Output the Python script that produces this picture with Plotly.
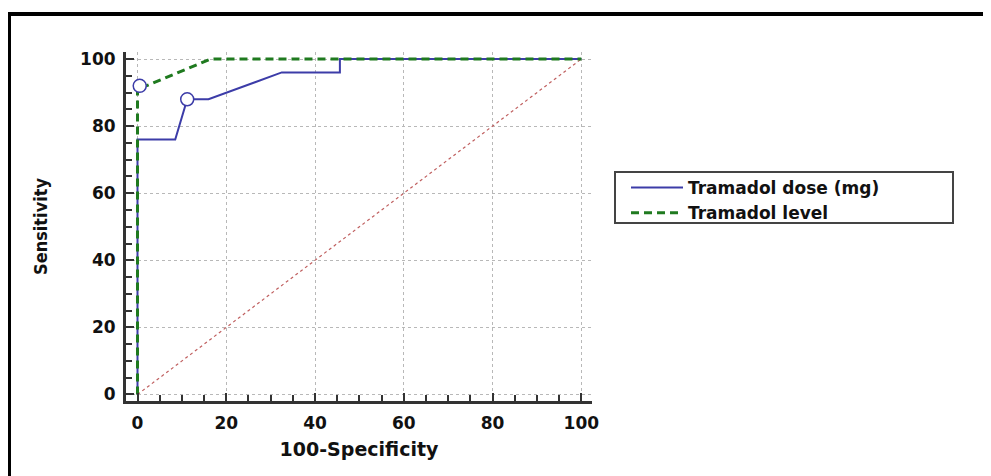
import plotly.graph_objects as go

# ---- data ----
dose_x = [0, 0, 8.5, 11.2, 16, 32.5, 45.6, 45.6, 100]
dose_y = [0, 76, 76, 88, 88, 96, 96, 100, 100]
dose_marker = ([11.2], [88])

level_x = [0, 0, 2, 16.5, 100]
level_y = [0, 92, 92, 100, 100]
level_marker = ([0.5], [92])

diag_x = [0, 100]
diag_y = [0, 100]

tick_vals = [0, 20, 40, 60, 80, 100]

# page body offset (browser default margin)
OFF = 8
W, H = 991 - OFF, 476 - OFF
# plot area in viewport pixels: left 126, right 592, top 52, bottom 401
ML, MT = 126 - OFF, 52 - OFF
MR = W - (592 - OFF)
MB = H - (401 - OFF)
PW, PH = W - ML - MR, H - MT - MB


def px(xv):  # viewport pixel -> paper
    return (xv - OFF - ML) / PW


def py(yv):
    return (H - MB - (yv - OFF)) / PH


blue = "#3c3ca8"
green = "#1f7a1f"
font_fam = "DejaVu Sans, Liberation Sans, Arial"

fig = go.Figure()
fig.add_trace(go.Scatter(x=diag_x, y=diag_y, mode="lines",
                         line=dict(color="#c06060", width=1.2, dash="dot"),
                         showlegend=False, hoverinfo="skip"))
fig.add_trace(go.Scatter(x=dose_x, y=dose_y, mode="lines", name="Tramadol dose (mg)",
                         line=dict(color=blue, width=2)))
fig.add_trace(go.Scatter(x=level_x, y=level_y, mode="lines", name="Tramadol level",
                         line=dict(color=green, width=3, dash="8px,5px")))
fig.add_trace(go.Scatter(x=dose_marker[0], y=dose_marker[1], mode="markers", showlegend=False,
                         marker=dict(symbol="circle", size=13, color="white",
                                     line=dict(color=blue, width=1.5))))
fig.add_trace(go.Scatter(x=level_marker[0], y=level_marker[1], mode="markers", showlegend=False,
                         marker=dict(symbol="circle", size=13, color="white",
                                     line=dict(color=blue, width=1.5))))

axis_common = dict(
    showline=True, linewidth=3, linecolor="#333333", mirror=False,
    showgrid=True, gridcolor="#b8b8b8", gridwidth=1, griddash="dot",
    zeroline=False,
    ticks="inside", ticklen=8, tickwidth=2, tickcolor="#333333",
    tickvals=tick_vals,
    tickfont=dict(family=font_fam, size=17, color="#111111", weight="bold"),
    minor=dict(dtick=5, tick0=0, ticks="inside", ticklen=6, tickwidth=2,
               tickcolor="#333333", showgrid=False),
)

fig.update_xaxes(range=[-2.59, 102.4], **axis_common, ticklabelstandoff=5,
                 title=dict(text="100-Specificity", standoff=11,
                            font=dict(family=font_fam, size=19, color="#111111", weight="bold")))
fig.update_yaxes(range=[-1.94, 102.09], **axis_common, ticklabelstandoff=4,
                 title=dict(text="Sensitivity", standoff=28,
                            font=dict(family="DejaVu Sans Condensed, Liberation Sans Narrow, sans-serif",
                                      size=18, color="#111111", weight="bold")))

shapes = [
    # outer frame (top and left edges)
    dict(type="line", xref="paper", yref="paper", x0=px(9), x1=px(1000), y0=py(14), y1=py(14),
         line=dict(color="black", width=4)),
    dict(type="line", xref="paper", yref="paper", x0=px(9), x1=px(9), y0=py(12), y1=py(490),
         line=dict(color="black", width=4)),
    # legend box
    dict(type="rect", xref="paper", yref="paper", x0=px(615), x1=px(953), y0=py(172), y1=py(223),
         line=dict(color="#444444", width=2), fillcolor="rgba(0,0,0,0)"),
]

fig.update_layout(
    width=W, height=H,
    margin=dict(l=ML, r=MR, t=MT, b=MB, autoexpand=False),
    paper_bgcolor="white", plot_bgcolor="white",
    shapes=shapes,
    legend=dict(x=px(626), y=py(170), xanchor="left", yanchor="top",
                bgcolor="rgba(0,0,0,0)", borderwidth=0, itemwidth=52,
                tracegroupgap=0,
                font=dict(family=font_fam, size=17, color="#111111", weight="bold")),
)

fig.write_html("out.html")
